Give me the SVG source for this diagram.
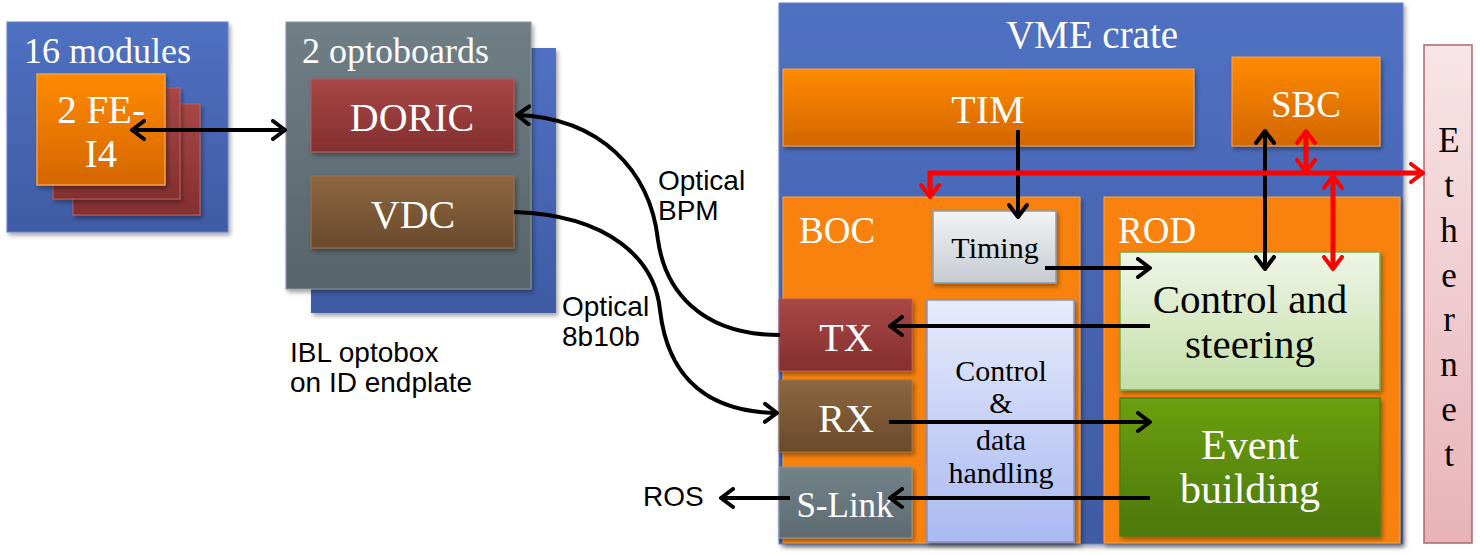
<svg xmlns="http://www.w3.org/2000/svg" width="1480" height="555" viewBox="0 0 1480 555">
<defs>
<filter id="sh" x="-10%" y="-10%" width="130%" height="130%"><feDropShadow dx="2" dy="3" stdDeviation="2" flood-color="#000" flood-opacity="0.35"/></filter>
<linearGradient id="gBlue" x1="0" y1="0" x2="0" y2="1"><stop offset="0" stop-color="#5071C2"/><stop offset="1" stop-color="#3F5BA4"/></linearGradient>
<linearGradient id="gGray" x1="0" y1="0" x2="0" y2="1"><stop offset="0" stop-color="#707F86"/><stop offset="1" stop-color="#57646A"/></linearGradient>
<linearGradient id="gOr" x1="0" y1="0" x2="0" y2="1"><stop offset="0" stop-color="#FF8A05"/><stop offset="1" stop-color="#D36600"/></linearGradient>
<linearGradient id="gRed" x1="0" y1="0" x2="0" y2="1"><stop offset="0" stop-color="#A84747"/><stop offset="1" stop-color="#842F2F"/></linearGradient>
<linearGradient id="gBrown" x1="0" y1="0" x2="0" y2="1"><stop offset="0" stop-color="#8D6741"/><stop offset="1" stop-color="#6A4A2B"/></linearGradient>
<linearGradient id="gSlink" x1="0" y1="0" x2="0" y2="1"><stop offset="0" stop-color="#73838A"/><stop offset="1" stop-color="#5D6B71"/></linearGradient>
<linearGradient id="gTiming" x1="0" y1="0" x2="0" y2="1"><stop offset="0" stop-color="#F2F4F6"/><stop offset="1" stop-color="#C4CBD1"/></linearGradient>
<linearGradient id="gCS" x1="0" y1="0" x2="0" y2="1"><stop offset="0" stop-color="#EEF5E6"/><stop offset="1" stop-color="#C3DFA8"/></linearGradient>
<linearGradient id="gEB" x1="0" y1="0" x2="0" y2="1"><stop offset="0" stop-color="#6BA012"/><stop offset="1" stop-color="#4C7808"/></linearGradient>
<linearGradient id="gCD" x1="0" y1="0" x2="0" y2="1"><stop offset="0" stop-color="#E7EBFB"/><stop offset="1" stop-color="#A9B9F2"/></linearGradient>
<linearGradient id="gEth" x1="0" y1="0" x2="0" y2="1"><stop offset="0" stop-color="#F8E5E7"/><stop offset="1" stop-color="#E7B3B8"/></linearGradient>
<marker id="ab" viewBox="0 0 16 22" refX="14" refY="11" markerWidth="16" markerHeight="22" markerUnits="userSpaceOnUse" orient="auto-start-reverse"><path d="M2,2 L14,11 L2,20" fill="none" stroke="#000" stroke-width="4" stroke-linecap="round" stroke-linejoin="round"/></marker>
<marker id="ar" viewBox="0 0 16 22" refX="14" refY="11" markerWidth="16" markerHeight="22" markerUnits="userSpaceOnUse" orient="auto-start-reverse"><path d="M2,2 L14,11 L2,20" fill="none" stroke="#F00" stroke-width="4" stroke-linecap="round" stroke-linejoin="round"/></marker>
</defs>
<style>
.s{font-family:"Liberation Serif","Times New Roman",serif;fill:#fff}
.k{fill:#000}
.a{font-family:"Liberation Sans",Arial,sans-serif;font-size:28px;fill:#000}
.m{text-anchor:middle}
.bl{fill:none;stroke:#000;stroke-width:4}
.rd{fill:none;stroke:#F00;stroke-width:5}
</style>

<g id="modules">
<rect x="7" y="22" width="221" height="210" fill="url(#gBlue)" stroke="#6680C8" stroke-width="1" filter="url(#sh)"/>
<text class="s" x="24" y="63" font-size="36">16 modules</text>
<rect x="73" y="104" width="127" height="111" fill="url(#gRed)" stroke="#C06060" stroke-width="1" filter="url(#sh)"/>
<rect x="53" y="88" width="127" height="111" fill="url(#gRed)" stroke="#C06060" stroke-width="1" filter="url(#sh)"/>
<rect x="37" y="74" width="128" height="111" fill="url(#gOr)" stroke="#F4A040" stroke-width="1.5" filter="url(#sh)"/>
<text class="s m" x="101" y="123" font-size="39">2 FE-</text>
<text class="s m" x="101" y="167" font-size="39">I4</text>
</g>

<g id="optoboards">
<rect x="311" y="48" width="245" height="265" fill="url(#gBlue)" filter="url(#sh)"/>
<rect x="286" y="22" width="245" height="267" fill="url(#gGray)" stroke="#8A989E" stroke-width="1" filter="url(#sh)"/>
<text class="s" x="302" y="63" font-size="36">2 optoboards</text>
</g>
<g id="doric">
<rect x="311" y="79" width="203" height="73" fill="url(#gRed)" stroke="#B85A5A" stroke-width="1" filter="url(#sh)"/>
<text class="s m" x="412" y="131" font-size="40">DORIC</text>
</g>
<g id="vdc">
<rect x="311" y="176" width="203" height="72" fill="url(#gBrown)" stroke="#9C7448" stroke-width="1" filter="url(#sh)"/>
<text class="s m" x="413" y="228" font-size="40">VDC</text>
</g>
<g id="optobox-label">
<text class="a" x="290" y="362">IBL optobox</text>
<text class="a" x="290" y="392">on ID endplate</text>
</g>

<g id="vme">
<rect x="779" y="3" width="624" height="541" fill="url(#gBlue)" stroke="#6680C8" stroke-width="1" filter="url(#sh)"/>
<text class="s m" x="1092" y="48" font-size="39">VME crate</text>
</g>
<g id="tim">
<rect x="783" y="69" width="411" height="77" fill="url(#gOr)" stroke="#F8A850" stroke-width="1" filter="url(#sh)"/>
<text class="s m" x="988" y="123" font-size="40">TIM</text>
</g>
<g id="sbc">
<rect x="1232" y="57" width="148" height="89" fill="url(#gOr)" stroke="#F8A850" stroke-width="1" filter="url(#sh)"/>
<text class="s m" x="1306" y="117" font-size="37">SBC</text>
</g>
<g id="boc">
<rect x="783" y="197" width="297" height="346" fill="#F88208" stroke="#F8A850" stroke-width="1" filter="url(#sh)"/>
<text class="s" x="799" y="243" font-size="37">BOC</text>
</g>
<g id="rod">
<rect x="1104" y="197" width="296" height="346" fill="#F88208" stroke="#F8A850" stroke-width="1" filter="url(#sh)"/>
<text class="s" x="1118" y="243" font-size="37">ROD</text>
</g>
<g id="timing">
<rect x="933" y="211" width="123" height="72" fill="url(#gTiming)" stroke="#8A9AAA" stroke-width="1.5" filter="url(#sh)"/>
<text class="s k m" x="995" y="258" font-size="30">Timing</text>
</g>
<g id="cdh">
<rect x="927" y="300" width="147" height="242" fill="url(#gCD)" stroke="#7A96DA" stroke-width="1.5" filter="url(#sh)"/>
<text class="s k m" x="1001" y="381" font-size="30">Control</text>
<text class="s k m" x="1001" y="413" font-size="30">&amp;</text>
<text class="s k m" x="1001" y="450" font-size="30">data</text>
<text class="s k m" x="1001" y="483" font-size="30">handling</text>
</g>
<g id="tx">
<rect x="779" y="299" width="133" height="72" fill="url(#gRed)" stroke="#B85A5A" stroke-width="1" filter="url(#sh)"/>
<text class="s m" x="846" y="351" font-size="40">TX</text>
</g>
<g id="rx">
<rect x="779" y="380" width="133" height="72" fill="url(#gBrown)" stroke="#9C7448" stroke-width="1" filter="url(#sh)"/>
<text class="s m" x="846" y="432" font-size="40">RX</text>
</g>
<g id="slink">
<rect x="779" y="467" width="133" height="71" fill="url(#gSlink)" stroke="#8A989E" stroke-width="1" filter="url(#sh)"/>
<text class="s m" x="845" y="517" font-size="35">S-Link</text>
</g>
<g id="control-steering">
<rect x="1120" y="252" width="260" height="138" fill="url(#gCS)" stroke="#7AA84A" stroke-width="1.5" filter="url(#sh)"/>
<text class="s k m" x="1250" y="313" font-size="41">Control and</text>
<text class="s k m" x="1250" y="358" font-size="41">steering</text>
</g>
<g id="event-building">
<rect x="1120" y="398" width="260" height="138" fill="url(#gEB)" stroke="#4E7E12" stroke-width="1.5" filter="url(#sh)"/>
<text class="s m" x="1250" y="459" font-size="42">Event</text>
<text class="s m" x="1250" y="503" font-size="42">building</text>
</g>
<g id="ethernet">
<rect x="1424" y="45" width="48" height="498" fill="url(#gEth)" stroke="#A8686E" stroke-width="1.5"/>
<g class="s k m" font-size="35">
<text x="1449" y="152">E</text>
<text x="1449" y="197">t</text>
<text x="1449" y="242">h</text>
<text x="1449" y="287">e</text>
<text x="1449" y="331">r</text>
<text x="1449" y="376">n</text>
<text x="1449" y="421">e</text>
<text x="1449" y="466">t</text>
</g>
</g>
<g id="labels">
<text class="a" x="658" y="190">Optical</text>
<text class="a" x="658" y="220">BPM</text>
<text class="a" x="562" y="316">Optical</text>
<text class="a" x="562" y="346">8b10b</text>
<text class="a" x="643" y="506">ROS</text>
</g>

<g id="connectors">
<line class="bl" x1="132" y1="130" x2="285" y2="130" marker-start="url(#ab)" marker-end="url(#ab)"/>
<path class="bl" d="M780,335 C700,335 665,290 658,240 C650,170 600,118 517,115" marker-end="url(#ab)"/>
<path class="bl" d="M514,212 C610,215 655,260 660,310 C668,380 710,412 777,413" marker-end="url(#ab)"/>
<line class="bl" x1="1018" y1="130" x2="1018" y2="217" marker-end="url(#ab)"/>
<line class="bl" x1="1045" y1="268" x2="1150" y2="268" marker-end="url(#ab)"/>
<line class="bl" x1="1265" y1="131" x2="1265" y2="269" marker-start="url(#ab)" marker-end="url(#ab)"/>
<line class="bl" x1="1150" y1="326" x2="890" y2="326" marker-end="url(#ab)"/>
<line class="bl" x1="889" y1="422" x2="1150" y2="422" marker-end="url(#ab)"/>
<line class="bl" x1="1150" y1="498" x2="890" y2="498" marker-end="url(#ab)"/>
<line class="bl" x1="790" y1="498" x2="721" y2="498" marker-end="url(#ab)"/>
<path class="rd" d="M1423,173 L930,173 L930,197" marker-start="url(#ar)" marker-end="url(#ar)"/>
<line class="rd" x1="1306" y1="131" x2="1306" y2="172" marker-start="url(#ar)" marker-end="url(#ar)"/>
<line class="rd" x1="1333" y1="176" x2="1333" y2="269" marker-start="url(#ar)" marker-end="url(#ar)"/>
</g>
</svg>
